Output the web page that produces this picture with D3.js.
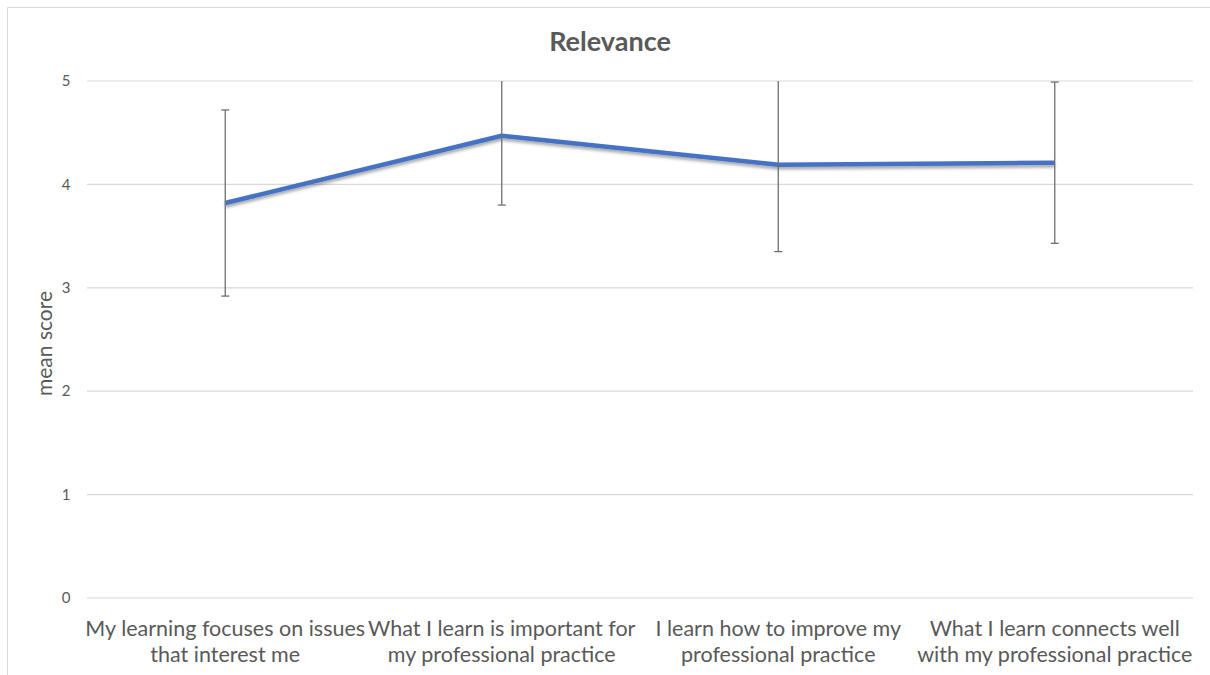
<!DOCTYPE html>
<html>
<head>
<meta charset="utf-8">
<script src="https://cdn.jsdelivr.net/npm/d3@7"></script>
<style>
  body { margin: 0; background: #fff; }
  text { font-family: Lato, "Open Sans", sans-serif; fill: #595959; }
</style>
</head>
<body>
<div id="chart"></div>
<script>
const categories = [
  ["My learning focuses on issues", "that interest me"],
  ["What I learn is important for", "my professional practice"],
  ["I learn how to improve my", "professional practice"],
  ["What I learn connects well", "with my professional practice"]
];
const meanScores = [3.82, 4.47, 4.19, 4.21];
const errors = [0.90, 0.67, 0.84, 0.78];
const yTicks = [0, 1, 2, 3, 4, 5];

const width = 1210;
const height = 675;
const margin = { top: 81, right: 17, bottom: 77, left: 87 };

const svg = d3.select("#chart").append("svg")
  .attr("width", width)
  .attr("height", height);

// outer frame (top + left edges visible in the reference)
svg.append("path")
  .attr("d", `M7.5,${height} V7.5 H${width}`)
  .attr("fill", "none")
  .attr("stroke", "#d9d9d9")
  .attr("stroke-width", 1);

const x = d3.scalePoint()
  .domain(d3.range(categories.length))
  .range([margin.left, width - margin.right])
  .padding(0.5);

const y = d3.scaleLinear()
  .domain([0, 5])
  .range([height - margin.bottom, margin.top]);

// gridlines
svg.append("g")
  .selectAll("line")
  .data(yTicks)
  .enter()
  .append("line")
  .attr("x1", margin.left)
  .attr("x2", width - margin.right)
  .attr("y1", d => y(d))
  .attr("y2", d => y(d))
  .attr("stroke", "#d9d9d9")
  .attr("stroke-width", 1.2);

// y tick labels
svg.append("g")
  .selectAll("text")
  .data(yTicks)
  .enter()
  .append("text")
  .attr("x", 66)
  .attr("y", d => y(d))
  .attr("dy", "0.35em")
  .attr("text-anchor", "middle")
  .style("font-size", "15px")
  .text(d => d);

// y axis title
svg.append("text")
  .attr("transform", `translate(52,${(y(0) + y(5)) / 2 + 4}) rotate(-90)`)
  .attr("text-anchor", "middle")
  .style("font-size", "21px")
  .text("mean score");

// title
svg.append("text")
  .attr("x", 610)
  .attr("y", 51)
  .attr("text-anchor", "middle")
  .style("font-size", "27px")
  .style("font-weight", "bold")
  .text("Relevance");

// x labels
const xl = svg.append("g")
  .selectAll("text")
  .data(categories)
  .enter()
  .append("text")
  .attr("text-anchor", "middle")
  .style("font-size", "21.5px");
xl.each(function (d, i) {
  d3.select(this).selectAll("tspan")
    .data(d)
    .enter()
    .append("tspan")
    .attr("x", x(i))
    .attr("y", (t, j) => 636 + j * 26)
    .text(t => t);
});

// shadow for the line
const defs = svg.append("defs");
const f = defs.append("filter").attr("id", "shadow")
  .attr("x", "-5%").attr("y", "-50%").attr("width", "110%").attr("height", "200%");
f.append("feDropShadow")
  .attr("dx", 0).attr("dy", 2.5).attr("stdDeviation", 1.8)
  .attr("flood-color", "#000").attr("flood-opacity", 0.35);

const line = d3.line()
  .x((d, i) => x(i))
  .y(d => y(d));

svg.append("path")
  .datum(meanScores)
  .attr("d", line)
  .attr("fill", "none")
  .attr("stroke", "#4472c4")
  .attr("stroke-width", 4.5)
  .attr("stroke-linejoin", "round")
  .attr("filter", "url(#shadow)");

// error bars (clipped to the plot area top at 5)
const bars = meanScores.map((m, i) => ({ i, lo: m - errors[i], hi: m + errors[i] }));
const eb = svg.append("g")
  .selectAll("g")
  .data(bars)
  .enter()
  .append("g")
  .attr("stroke", "#6f6f6f")
  .attr("stroke-width", 1.3);
eb.append("line")
  .attr("x1", d => x(d.i))
  .attr("x2", d => x(d.i))
  .attr("y1", d => y(Math.min(5, d.hi)))
  .attr("y2", d => y(d.lo));
eb.filter(d => d.hi <= 5)
  .append("line")
  .attr("x1", d => x(d.i) - 4)
  .attr("x2", d => x(d.i) + 4)
  .attr("y1", d => y(d.hi))
  .attr("y2", d => y(d.hi));
eb.append("line")
  .attr("x1", d => x(d.i) - 4)
  .attr("x2", d => x(d.i) + 4)
  .attr("y1", d => y(d.lo))
  .attr("y2", d => y(d.lo));
</script>
</body>
</html>
